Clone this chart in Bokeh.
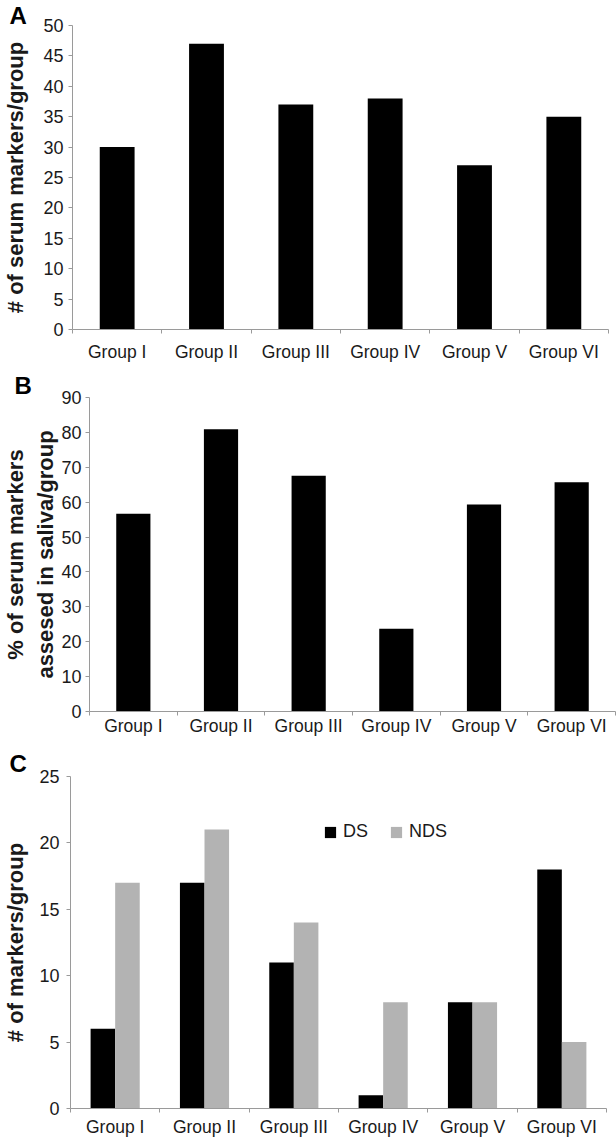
from bokeh.plotting import figure
from bokeh.models import Range1d, FixedTicker, Legend, LegendItem, ColumnDataSource, Title
from bokeh.layouts import column
from bokeh.transform import dodge
from bokeh.embed import file_html
from bokeh.resources import INLINE

# ---------------- data ----------------
groups = ["Group I", "Group II", "Group III", "Group IV", "Group V", "Group VI"]
serum_markers = [30, 47, 37, 38, 27, 35]                 # panel A
saliva_pct = [56.7, 80.9, 67.6, 23.7, 59.3, 65.7]        # panel B
ds_markers = [6, 17, 11, 1, 8, 18]                       # panel C, DS
nds_markers = [17, 21, 14, 8, 8, 5]                      # panel C, NDS
series_names = ["DS", "NDS"]

y_ticks_a = [0, 5, 10, 15, 20, 25, 30, 35, 40, 45, 50]
y_ticks_b = [0, 10, 20, 30, 40, 50, 60, 70, 80, 90]
y_ticks_c = [0, 5, 10, 15, 20, 25]

# ---------------- style ----------------
FONT = "Liberation Sans"
AXIS_GRAY = "#9a9a9a"
TEXT = "#1a1a1a"
BLACK = "#000000"
GRAY = "#b3b3b3"

centers = [i + 0.5 for i in range(len(groups))]
bounds = [i for i in range(len(groups) + 1)]


def make_panel(height, ymax, yticks, ylabel, letter, b_top, b_bottom, b_left, b_right,
               ytick_standoff, xlabel_standoff, ylabel_standoff, letter_offset, letter_standoff):
    p = figure(width=616, height=height, output_backend="svg", toolbar_location=None,
               x_range=Range1d(0, len(groups)), y_range=Range1d(0, ymax),
               min_border_top=b_top, min_border_bottom=b_bottom,
               min_border_left=b_left, min_border_right=b_right)
    p.frame_align = False
    p.outline_line_color = None
    p.background_fill_color = "white"
    p.border_fill_color = "white"
    p.xgrid.visible = False
    p.ygrid.visible = False

    xa = p.xaxis[0]
    xa.ticker = FixedTicker(ticks=centers, minor_ticks=bounds)
    xa.major_label_overrides = {c: g for c, g in zip(centers, groups)}
    xa.axis_line_color = AXIS_GRAY
    xa.axis_line_width = 1
    xa.major_tick_line_color = None
    xa.major_tick_in = 0
    xa.major_tick_out = 0
    xa.minor_tick_line_color = AXIS_GRAY
    xa.minor_tick_in = 0
    xa.minor_tick_out = 4
    xa.major_label_text_font = FONT
    xa.major_label_text_font_size = "17.5px"
    xa.major_label_text_color = TEXT
    xa.major_label_standoff = xlabel_standoff

    ya = p.yaxis[0]
    ya.ticker = FixedTicker(ticks=yticks, minor_ticks=[])
    ya.axis_line_color = AXIS_GRAY
    ya.major_tick_line_color = AXIS_GRAY
    ya.major_tick_in = 0
    ya.major_tick_out = 4
    ya.minor_tick_line_color = None
    ya.major_label_text_font = FONT
    ya.major_label_text_font_size = "18px"
    ya.major_label_text_color = TEXT
    ya.major_label_standoff = ytick_standoff
    ya.axis_label = ylabel
    ya.axis_label_text_font = FONT
    ya.axis_label_text_font_style = "bold"
    ya.axis_label_text_font_size = "22px"
    ya.axis_label_text_color = TEXT
    ya.axis_label_standoff = ylabel_standoff

    p.add_layout(Title(text=letter, align="left", offset=letter_offset, standoff=letter_standoff,
                       text_font=FONT, text_font_style="bold", text_font_size="24px",
                       text_color=BLACK), "above")
    return p


# Panel A
pA = make_panel(368, 50, y_ticks_a, "# of serum markers/group", "A",
                25, 39, 71, 8, 5, 8, 12, -63, -7)
srcA = ColumnDataSource(dict(x=centers, top=serum_markers, g=groups))
pA.vbar(x="x", top="top", width=0.39, bottom=0, source=srcA, fill_color=BLACK, line_color=None)

# Panel B
pB = make_panel(377, 90, y_ticks_b, "% of serum markers\nassesed in saliva/group", "B",
                29, 34, 88, 1, 4, 0, 0, -75, -3)
srcB = ColumnDataSource(dict(x=centers, top=saliva_pct, g=groups))
pB.vbar(x="x", top="top", width=0.39, bottom=0, source=srcB, fill_color=BLACK, line_color=None)

# Panel C
pC = make_panel(394, 25, y_ticks_c, "# of markers/group", "C",
                31, 31, 69, 10, 7, 4, 8, -61, -1)
srcC = ColumnDataSource(dict(x=centers, ds=ds_markers, nds=nds_markers, g=groups))
r_ds = pC.vbar(x=dodge("x", -0.1375), top="ds", width=0.275, bottom=0, source=srcC,
               fill_color=BLACK, line_color=None)
r_nds = pC.vbar(x=dodge("x", 0.1375), top="nds", width=0.275, bottom=0, source=srcC,
                fill_color=GRAY, line_color=None)
legend = Legend(items=[LegendItem(label=series_names[0], renderers=[r_ds]),
                       LegendItem(label=series_names[1], renderers=[r_nds])],
                orientation="horizontal", location=(253, 266),
                glyph_width=14, glyph_height=14, label_standoff=6, spacing=21,
                padding=0, margin=0, border_line_color=None, background_fill_alpha=0,
                label_text_font=FONT, label_text_font_size="18px", label_text_color=TEXT)
pC.add_layout(legend)

layout = column(pA, pB, pC, spacing=0)
open("out.html", "w").write(file_html(layout, INLINE))
